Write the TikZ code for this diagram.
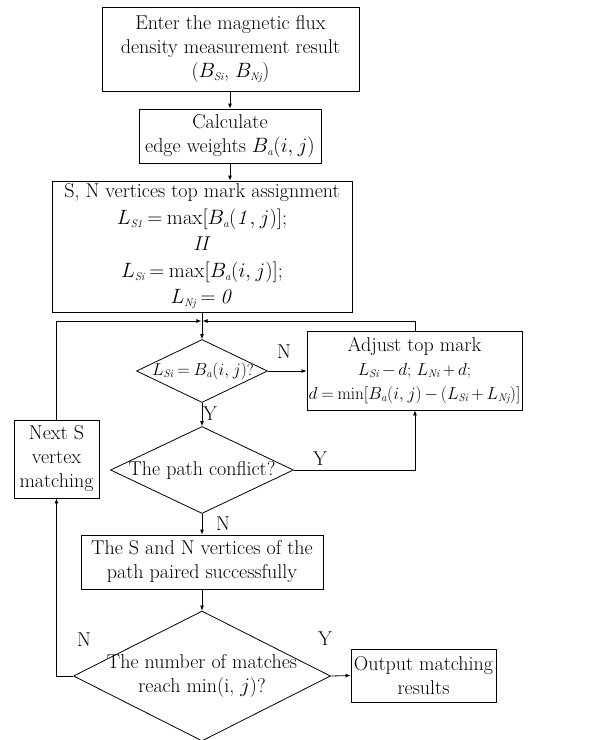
\documentclass[tikz,border=0pt]{standalone}
\usetikzlibrary{shapes.geometric,arrows.meta}
\newcommand{\sbx}[1]{_{\mbox{\fontsize{11}{11}\selectfont\itshape #1}}}
\newcommand{\tightm}{\medmuskip=3mu\relax\thickmuskip=4mu\relax\thinmuskip=2mu\relax}
\newcommand{\smf}{\fontsize{17}{24}\selectfont}
\begin{document}
\begin{tikzpicture}[x=1pt,y=-1pt,
  every node/.append style={font=\fontsize{20}{24}\selectfont},
  box/.style={draw, line width=0.8pt, align=center, inner sep=0pt},
  dia/.style={draw, diamond, line width=0.8pt, inner sep=0pt},
  txt/.style={align=center, inner sep=0pt},
  arr/.style={line width=0.8pt, -{Latex[length=5pt,width=4pt]}},
  lbl/.style={inner sep=0pt}]
\tightm
\useasboundingbox (0,0) rectangle (594,740);
\node[box, minimum width=257pt, minimum height=84pt] (b1) at (230.5,49)
  {Enter the magnetic flux\\density measurement result\\($B\sbx{Si}$, $B\sbx{Nj}$)};
\node[box, minimum width=182pt, minimum height=54pt] (b2) at (230,136)
  {Calculate\\edge weights $B\sbx{a}(i,\,j)$};
\node[box, minimum width=300pt, minimum height=131pt, font=\fontsize{20}{26.5}\selectfont] (b3) at (202,246.5)
  {S, N vertices top mark assignment\\$L\sbx{S1} = \max[B\sbx{a}(\mathit{1},\,j)]$;\\\textit{II}\\$L\sbx{Si} = \max[B\sbx{a}(i,\,j)]$;\\$L\sbx{Nj} = \mathit{0}$};
\coordinate (m) at (202,321);
\node[dia, minimum width=131pt, minimum height=63pt] (d1) at (202,371) {};
\node[txt, font=\fontsize{16}{20}\selectfont] (d1t) at (203,371) {$L\sbx{Si} = B\sbx{a}(i,\,j)$?};
\node[box, minimum width=215pt, minimum height=79pt] (adj) at (414.5,370.5)
  {Adjust top mark\\{\smf$L\sbx{Si} - d$; $L\sbx{Ni} + d$;}\\{\smf$d = \min[B\sbx{a}(i,\,j) - (L\sbx{Si} + L\sbx{Nj})]$}};
\node[dia, minimum width=183pt, minimum height=87pt] (d2) at (202,470) {};
\node[txt] (d2t) at (d2) {The path conflict?};
\node[box, minimum width=242pt, minimum height=54pt] (b4) at (202,562)
  {The S and N vertices of the\\path paired successfully};
\node[box, minimum width=85pt, minimum height=78pt] (ns) at (56.5,459)
  {Next S\\vertex\\matching};
\node[dia, minimum width=257pt, minimum height=130pt] (d3) at (202,676) {};
\node[txt] (d3t) at (202,676) {The number of matches\\reach min(i, $j$)?};
\node[box, minimum width=145pt, minimum height=53pt] (out) at (423.5,675.5)
  {Output matching\\results};
% connectors
\draw[arr] (b1.south -| b2.north) -- (b2.north);
\draw[arr] (b2.south) -- (b2.south |- b3.north);
\draw[arr] (b3.south) -- (d1.north);
\draw[arr] (ns.north) -- (ns.north |- m) -- ([xshift=-0.6pt]m);
\draw[arr] (adj.north -| 415,0) -- (415,321) -- ([xshift=0.6pt]m);
\draw[arr] (d1.east) -- (d1.east -| adj.west);
\draw[arr] (d1.south) -- (d2.north);
\draw[arr] (d2.east) -- (d2.east -| 415,0) -- (415,0 |- adj.south);
\draw[arr] (d2.south) -- (d2.south |- b4.north);
\draw[arr] (b4.south) -- (d3.north);
\draw[arr] (d3.west) -- (d3.west -| ns.south) -- (ns.south);
\draw[arr] (d3.east) -- (out.west);
% labels
\node[lbl] (lN1) at (284,352) {N};
\node[lbl] (lY1) at (210,414) {Y};
\node[lbl] (lY2) at (320,459) {Y};
\node[lbl] (lN2) at (223,524) {N};
\node[lbl] (lN3) at (84,640) {N};
\node[lbl] (lY3) at (325,639) {Y};
\end{tikzpicture}
\end{document}
